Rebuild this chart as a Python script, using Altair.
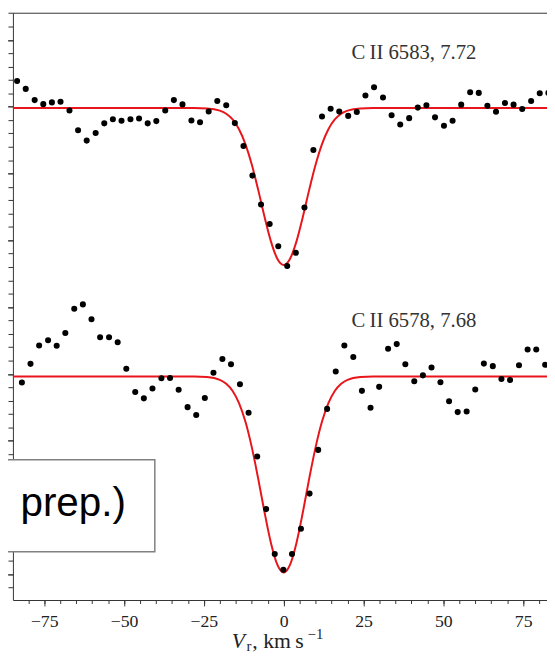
import altair as alt
import pandas as pd

# ---- data ----
v_upper = [-83.5, -80.8, -78.0, -75.3, -72.6, -69.9, -67.1, -64.4, -61.7, -58.9,
           -56.2, -53.5, -50.8, -48.0, -45.3, -42.6, -39.9, -37.1, -34.4, -31.7,
           -28.9, -26.2, -23.5, -20.8, -18.0, -15.3, -12.6, -9.8, -7.1, -4.4,
           -1.7, 1.1, 3.8, 6.5, 9.3, 12.0, 14.7, 17.4, 20.2, 22.9,
           25.6, 28.3, 31.1, 33.8, 36.5, 39.3, 42.0, 44.7, 47.4, 50.2,
           52.9, 55.6, 58.4, 61.1, 63.8, 66.5, 69.3, 72.0, 74.7, 77.5,
           80.2, 82.9]
flux_upper = [1.0192, 1.0133, 1.0049, 1.0019, 1.0032, 1.0037, 0.9971, 0.9823, 0.9746, 0.9803,
              0.9875, 0.9906, 0.9894, 0.9906, 0.9912, 0.9875, 0.9892, 0.9971, 1.0049, 1.0017,
              0.9897, 0.9884, 0.9964, 1.0043, 1.0011, 0.9877, 0.9705, 0.9484, 0.9268, 0.9122,
              0.8955, 0.8808, 0.8906, 0.9245, 0.9676, 0.9926, 0.9985, 0.9963, 0.9931, 0.9960,
              1.0083, 1.0145, 1.0069, 0.9936, 0.9866, 0.9914, 0.9993, 1.0010, 0.9920, 0.9857,
              0.9894, 1.0015, 1.0108, 1.0103, 1.0006, 0.9962, 1.0028, 1.0015, 0.9982, 1.0043,
              1.0100, 1.0103]

v_lower = [-82.0, -79.3, -76.6, -73.8, -71.1, -68.4, -65.6, -62.9, -60.2, -57.5,
           -54.7, -52.0, -49.3, -46.5, -43.8, -41.1, -38.3, -35.6, -32.9, -30.1,
           -27.4, -24.7, -22.0, -19.2, -16.5, -13.7, -11.0, -8.3, -5.5, -2.8,
           -0.1, 2.6, 5.4, 8.1, 10.8, 13.6, 16.3, 19.0, 21.8, 24.5,
           27.2, 29.9, 32.7, 35.4, 38.1, 40.9, 43.6, 46.3, 49.1, 51.8,
           54.5, 57.3, 60.0, 62.7, 65.5, 68.2, 70.9, 73.7, 76.4, 79.1,
           81.9]
flux_lower = [0.7935, 0.8075, 0.8212, 0.8252, 0.8210, 0.8306, 0.8488, 0.8520, 0.8409, 0.8274,
              0.8274, 0.8237, 0.8038, 0.7864, 0.7817, 0.7891, 0.7967, 0.7969, 0.7881, 0.7751,
              0.7692, 0.7819, 0.8009, 0.8112, 0.8072, 0.7923, 0.7709, 0.7382, 0.6988, 0.6652,
              0.6534, 0.6652, 0.6841, 0.7104, 0.7431, 0.7738, 0.8018, 0.8212, 0.8127, 0.7873,
              0.7746, 0.7903, 0.8188, 0.8223, 0.8072, 0.7945, 0.7989, 0.8048, 0.7937, 0.7795,
              0.7714, 0.7718, 0.7883, 0.8077, 0.8058, 0.7962, 0.7954, 0.8065, 0.8183, 0.8183,
              0.8068]

model_v = [-85, -28, -24, -20, -18, -16, -14, -12, -10, -8, -6, -4, -2, 0,
           2, 4, 6, 8, 10, 12, 14, 16, 18, 20, 24, 28, 85]
model_upper = [0.999, 0.999, 0.9987, 0.9970, 0.9947, 0.9904, 0.9831, 0.9720, 0.9567, 0.9379,
               0.9176, 0.8992, 0.8862, 0.8815, 0.8862, 0.8992, 0.9176, 0.9379, 0.9567, 0.9720,
               0.9831, 0.9904, 0.9947, 0.9970, 0.9987, 0.999, 0.999]
model_lower = [0.798, 0.798, 0.7976, 0.7955, 0.7926, 0.7872, 0.7782, 0.7643, 0.7452, 0.7218,
               0.6964, 0.6735, 0.6573, 0.6514, 0.6573, 0.6735, 0.6964, 0.7218, 0.7452, 0.7643,
               0.7782, 0.7872, 0.7926, 0.7955, 0.7976, 0.798, 0.798]

line_labels = ["C\u2009II 6583, 7.72", "C\u2009II 6578, 7.68"]
label_v = [40.8, 40.8]
label_flux = [1.0402, 0.8396]

x_major_ticks = [-75, -50, -25, 0, 25, 50, 75]
x_minor_ticks = [-80, -75, -70, -65, -60, -55, -50, -45, -40, -35, -30, -25, -20, -15, -10, -5,
                 0, 5, 10, 15, 20, 25, 30, 35, 40, 45, 50, 55, 60, 65, 70, 75, 80]
y_major_ticks = [0.65, 0.70, 0.75, 0.80, 0.85, 0.90, 0.95, 1.00, 1.05]
y_minor_ticks = [round(0.64 + 0.01 * i, 2) for i in range(44)]

box_text = "n prep.)"

# ---- tables ----
df_up = pd.DataFrame({"v": v_upper, "f": flux_upper})
df_lo = pd.DataFrame({"v": v_lower, "f": flux_lower})
df_model = pd.concat([
    pd.DataFrame({"v": model_v, "f": model_upper, "s": "6583"}),
    pd.DataFrame({"v": model_v, "f": model_lower, "s": "6578"}),
])
df_lab = pd.DataFrame({"v": label_v, "f": label_flux, "t": line_labels})

W, H = 542, 596
xs = alt.Scale(domain=[-84.81, 82.47], nice=False, zero=False)
ys = alt.Scale(domain=[0.63075, 1.0703], nice=False, zero=False)

serif = "Liberation Serif"
ax_col = "#333333"

x_major_axis = alt.Axis(orient="bottom", values=x_major_ticks, tickSize=6, labelPadding=16,
                        labelBaseline="middle", labelFont=serif, labelFontSize=18,
                        labelColor="#222222", title=None, grid=False, domain=True,
                        labelFlush=False, labelOverlap=False, domainColor=ax_col, tickColor=ax_col)
x_minor_axis = alt.Axis(orient="bottom", values=x_minor_ticks, tickSize=3.5, labels=False,
                        title=None, grid=False, domain=False, tickColor=ax_col)
y_major_axis = alt.Axis(orient="left", values=y_major_ticks, tickSize=9, labels=False, title=None,
                        grid=False, domain=True, domainColor=ax_col, tickColor=ax_col)
y_minor_axis = alt.Axis(orient="left", values=y_minor_ticks, tickSize=5, labels=False, title=None,
                        grid=False, domain=False, tickColor=ax_col)
top_axis = alt.Axis(orient="top", ticks=False, labels=False, title=None, grid=False,
                    domain=True, domainColor=ax_col)

red = "#e8151b"

lines = alt.Chart(df_model).mark_line(color=red, strokeWidth=2, interpolate="monotone", clip=True).encode(
    x=alt.X("v:Q", scale=xs, axis=x_minor_axis),
    y=alt.Y("f:Q", scale=ys, axis=y_minor_axis),
    detail="s:N",
)
pts_up = alt.Chart(df_up).mark_circle(size=38, color="black", opacity=1).encode(
    x=alt.X("v:Q", scale=xs, axis=x_major_axis),
    y=alt.Y("f:Q", scale=ys, axis=y_major_axis),
)
pts_lo = alt.Chart(df_lo).mark_circle(size=38, color="black", opacity=1).encode(
    x=alt.X("v:Q", scale=xs, axis=None),
    y=alt.Y("f:Q", scale=ys, axis=None),
)
labels = alt.Chart(df_lab).mark_text(font=serif, fontSize=21, color="#333333", baseline="middle").encode(
    x=alt.X("v:Q", scale=xs, axis=top_axis),
    y=alt.Y("f:Q", scale=ys, axis=None),
    text="t:N",
)

# overlay box (partially cut note)
box_df = pd.DataFrame({"t": [box_text]})
box = alt.Chart(box_df).mark_rect(fill="white", stroke="#808080", strokeWidth=1.5).encode(
    x=alt.value(-20), x2=alt.value(144), y=alt.value(453.7), y2=alt.value(547)
)
box_t = alt.Chart(box_df).mark_text(font="Liberation Sans", fontSize=41, align="right",
                                    baseline="alphabetic", color="black").encode(
    x=alt.value(114.7), y=alt.value(510.3), text="t:N"
)

# axis title  V_r, km s^-1
def part(txt, x, y, size, style="normal"):
    return alt.Chart(pd.DataFrame({"t": [txt]})).mark_text(
        font=serif, fontSize=size, fontStyle=style, align="left", baseline="alphabetic", color="#222222"
    ).encode(x=alt.value(x), y=alt.value(y), text="t:N")

title_parts = [
    part("V", 222, 645, 22, "italic"),
    part("r", 237, 648, 15),
    part(", km\u2009s", 243, 645, 22),
    part("\u22121", 299, 636, 15),
]

chart = alt.layer(lines, pts_up, pts_lo, labels, box, box_t, *title_parts).resolve_axis(
    x="independent", y="independent"
).properties(
    width=W, height=H,
    autosize=alt.AutoSizeParams(type="none"),
    padding={"left": 5, "top": 0, "right": 0, "bottom": 52},
    background="white",
).configure_view(stroke=None)

chart.save("out.html", embed_options={"renderer": "svg", "actions": False})
